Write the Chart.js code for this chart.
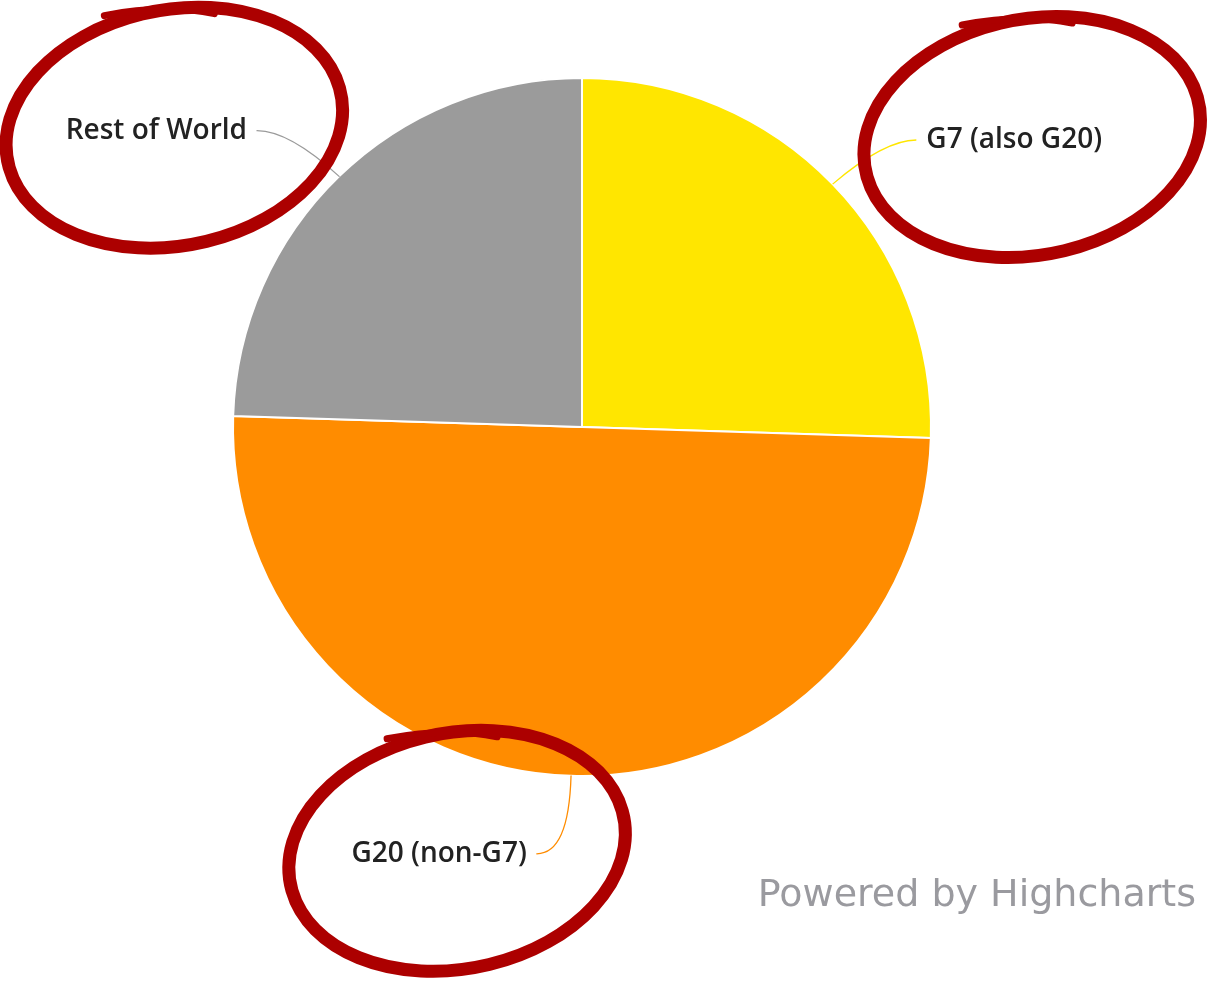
<!DOCTYPE html>
<html>

<head>
    <meta charset="utf-8" />
    <style>
        body {
            margin: 0;
            padding: 0;
            background-color: #ffffff;
        }

        .wrap {
            position: relative;
            width: 1207px;
            height: 991px;
        }
    </style>
</head>

<body>
    <div class="wrap">
        <canvas id="pieChart"></canvas>
    </div>
</body>
<script src="https://cdn.jsdelivr.net/npm/chart.js"></script>
<script>
    // Slices, clockwise from 12 o'clock
    var groups = ["G7 (also G20)", "G20 (non-G7)", "Rest of World"];
    var shares = [25.5, 50, 24.5];
    var sliceColors = ["#ffe600", "#ff8c00", "#9b9b9b"];

    // Draws the data labels with connectors, the red hand-drawn rings and the credit
    var labelPlugin = {
        id: "pieLabels",
        afterDatasetsDraw: function (chart) {
            var ctx = chart.ctx;
            var arcs = chart.getDatasetMeta(0).data;
            ctx.save();
            arcs.forEach(function (arc, i) {
                var p = arc.getProps(["x", "y", "startAngle", "endAngle", "outerRadius"], true);
                var mid = (p.startAngle + p.endAngle) / 2;
                var cos = Math.cos(mid), sin = Math.sin(mid);
                var side = cos >= 0 ? 1 : -1;
                var ex = p.x + cos * p.outerRadius, ey = p.y + sin * p.outerRadius;
                var bx = p.x + cos * (p.outerRadius + 72), by = p.y + sin * (p.outerRadius + 72) + 6;
                var tx = bx + side * 42;

                // connector
                ctx.strokeStyle = sliceColors[i];
                ctx.lineWidth = 1.3;
                ctx.beginPath();
                ctx.moveTo(ex, ey);
                ctx.quadraticCurveTo(bx, by, tx - side * 10, by);
                ctx.stroke();

                // label
                ctx.font = "600 28px 'Open Sans', sans-serif";
                ctx.fillStyle = "#222222";
                ctx.textAlign = side > 0 ? "left" : "right";
                ctx.textBaseline = "middle";
                ctx.fillText(groups[i], tx, by);
                var w = ctx.measureText(groups[i]).width;

                // red ring round the label
                var cx = tx + side * w / 2 + 18, cy = by - 3;
                ctx.strokeStyle = "#ac0000";
                ctx.lineWidth = 13;
                ctx.lineCap = "round";
                ctx.beginPath();
                ctx.ellipse(cx, cy, 170, 118, -0.2, -2.0, -2.0 + Math.PI * 2 + 0.3);
                ctx.stroke();
                // little flick where the pen started
                ctx.lineWidth = 7;
                ctx.beginPath();
                ctx.moveTo(cx - 70, cy - 112);
                ctx.quadraticCurveTo(cx - 10, cy - 124, cx + 40, cy - 114);
                ctx.stroke();
            });

            ctx.font = "38px 'DejaVu Sans', sans-serif";
            ctx.fillStyle = "#9a9a9f";
            ctx.textAlign = "right";
            ctx.textBaseline = "middle";
            ctx.fillText("Powered by Highcharts", 1196, 896);
            ctx.restore();
        }
    };

    var ctx = document.getElementById("pieChart").getContext("2d");
    var pieChart = new Chart(ctx, {
        type: "pie",
        data: {
            labels: groups,
            datasets: [
                {
                    data: shares,
                    backgroundColor: sliceColors,
                    borderColor: "#ffffff",
                    borderWidth: 2,
                },
            ],
        },
        options: {
            responsive: true,
            maintainAspectRatio: false,
            animation: false,
            layout: {
                padding: { left: 232, right: 275, top: 77, bottom: 214 },
            },
            plugins: {
                legend: { display: false },
                tooltip: { enabled: false },
            },
        },
        plugins: [labelPlugin],
    });
</script>

</html>
